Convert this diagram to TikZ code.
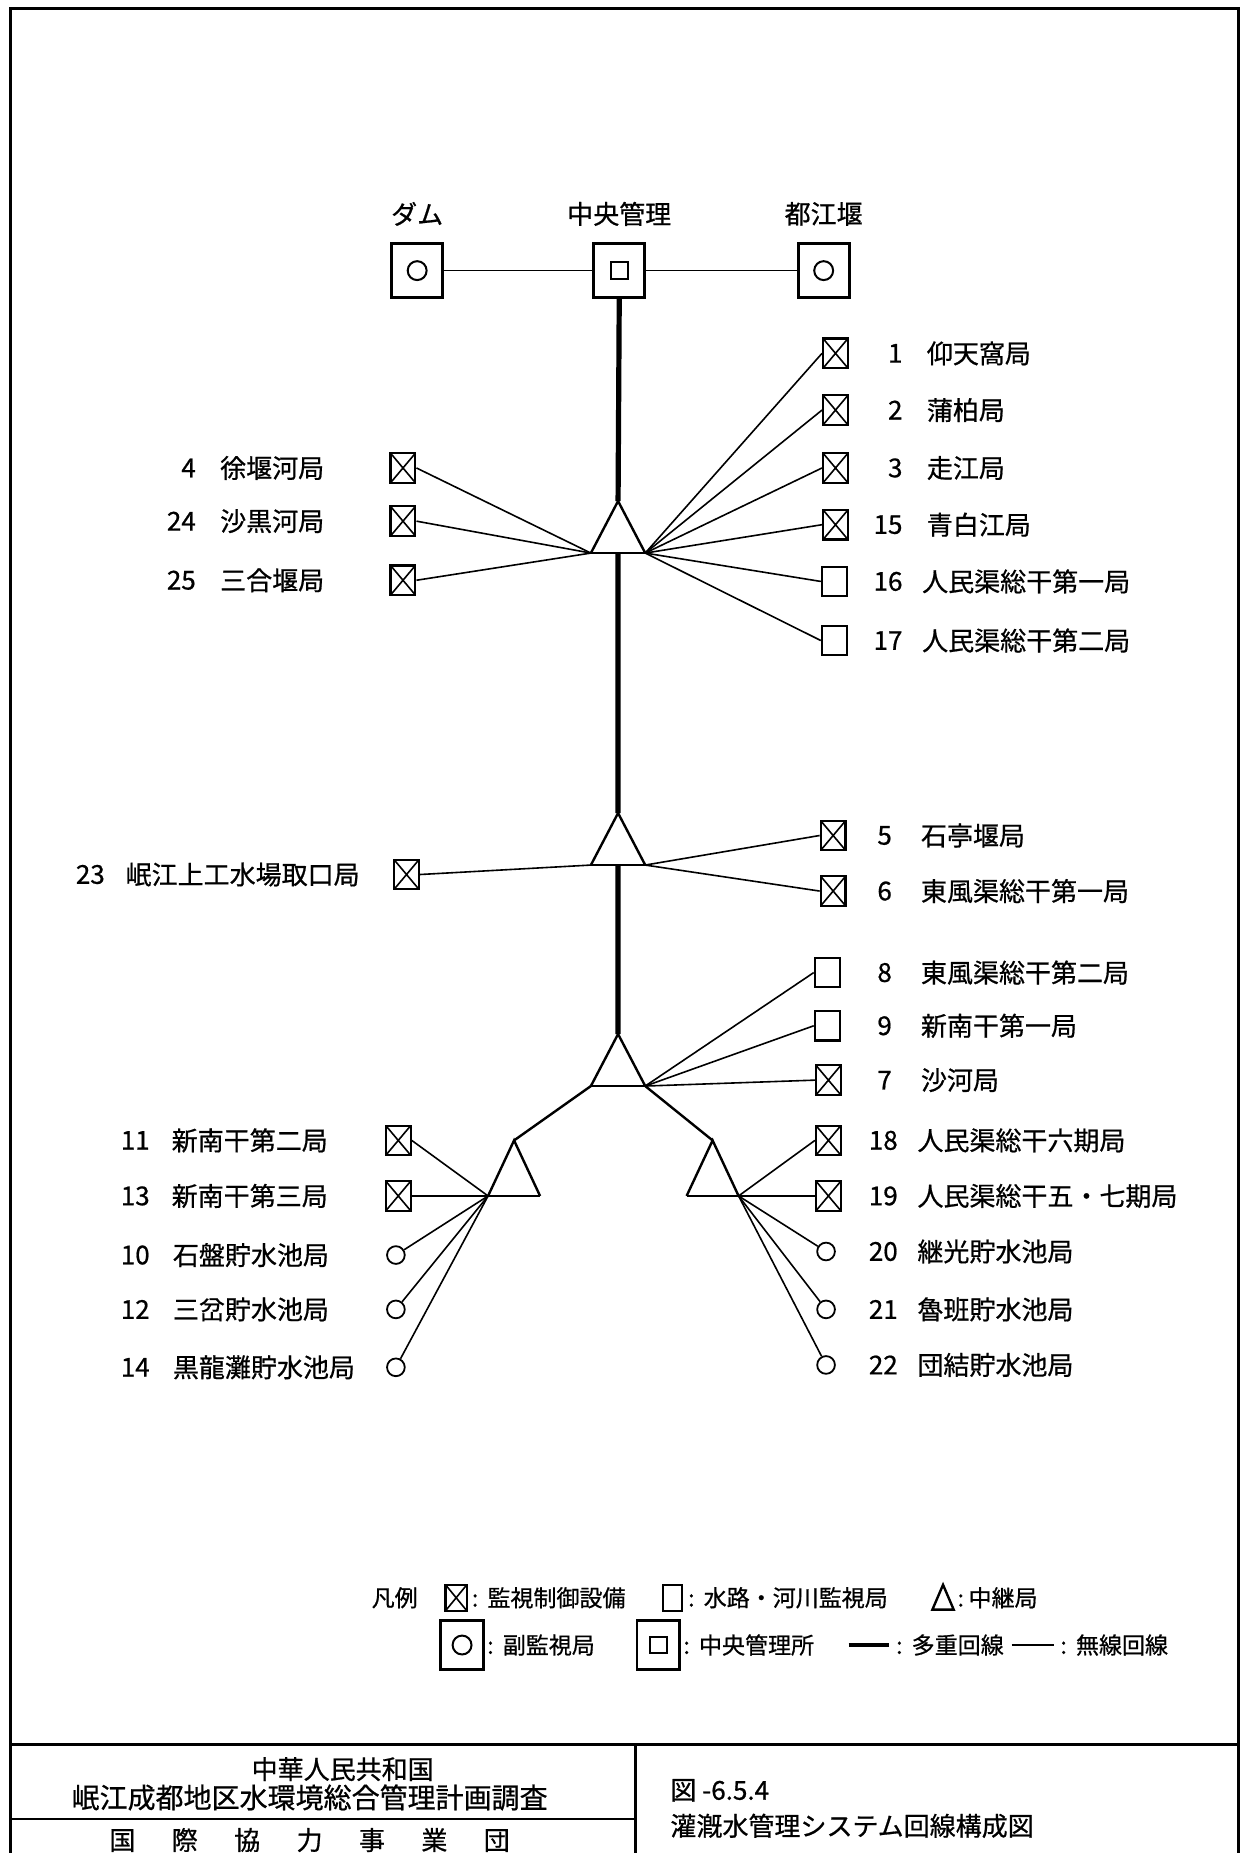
\documentclass[tikz,border=0pt]{standalone}
\usepackage{fontspec}
\setmainfont{Noto Sans CJK JP}[BoldFont=*, BoldFeatures={FakeBold=0.7}]
\usepackage{xcolor}
\usepackage{tikz}
\usetikzlibrary{positioning, calc}
\newcommand{\pxu}{0.5908bp}

\tikzset{
    lbl/.style={font=\fontsize{13bp}{13bp}\selectfont\bfseries, inner sep=0pt},
    smalllbl/.style={font=\fontsize{11.5bp}{11.5bp}\selectfont\bfseries, inner sep=0pt},
    obox/.style={draw, rectangle, line width=1.1bp, inner sep=0pt, minimum width=21*\pxu, minimum height=25*\pxu},
    xbox/.style={obox, path picture={
        \draw[line width=0.8bp] (path picture bounding box.north west) -- (path picture bounding box.south east)
            (path picture bounding box.north east) -- (path picture bounding box.south west);}},
    cstat/.style={draw, circle, line width=0.9bp, inner sep=0pt, minimum size=15*\pxu},
    bigbox/.style={draw, rectangle, line width=1.4bp, inner sep=0pt, minimum width=43*\pxu, minimum height=46*\pxu},
    subbox/.style={bigbox, path picture={\draw[line width=1bp] (path picture bounding box.center) circle[radius=8*\pxu];}},
    hqbox/.style={bigbox, path picture={\draw[line width=1bp] (path picture bounding box.center) ++(-7,-7) rectangle ++(14,14);}},
    multi/.style={line width=2.6bp},
    radio/.style={line width=0.8bp},
    side/.style={line width=1.2bp},
    frame/.style={line width=1.5bp}
}

\begin{document}
\begin{tikzpicture}[x=\pxu, y=-\pxu]
    \useasboundingbox (0,0) rectangle (1052,1568);

    % Frame and title block
    \draw[frame] (8.5,1568) -- (8.5,7) -- (1048,7) -- (1048,1568);
    \draw[frame] (8.5,1476) -- (1048,1476);
    \draw[frame] (538,1476) -- (538,1568);
    \draw[line width=1bp] (8.5,1539) -- (538,1539);
    \node[lbl] (tt1) at (290,1497) {中華人民共和国};
    \node[lbl, font=\fontsize{14bp}{14bp}\selectfont\bfseries] (tt2) at (262,1521) {岷江成都地区水環境総合管理計画調査};
    \node[lbl] (tt3) at (262,1557) {国\hspace{1.4em}際\hspace{1.4em}協\hspace{1.4em}力\hspace{1.4em}事\hspace{1.4em}業\hspace{1.4em}団};
    \node[lbl, anchor=west] (fig) at (567,1515) {図 -6.5.4};
    \node[lbl, anchor=west] (ttl) at (567,1545) {灌漑水管理システム回線構成図};

    % Head stations
    \node[subbox] (dam) at (353,229) {};
    \node[hqbox] (hq) at (524,229) {};
    \node[subbox] (djy) at (697,229) {};
    \node[lbl] (damt) at (353,181) {ダム};
    \node[lbl] (hqt) at (524,181) {中央管理};
    \node[lbl] (djyt) at (697,181) {都江堰};
    \draw[radio] (dam) -- (hq) (hq) -- (djy);

    % Relay stations
    \foreach \relay/\y in {r1/424, r2/688, r3/875} {
        \coordinate (\relay) at (523,\y);
        \coordinate (\relay l) at (500,\y+44);
        \coordinate (\relay r) at (546,\y+44);
        \coordinate (\relay b) at (523,\y+44);
        \draw[side] (\relay l) -- (\relay) -- (\relay r);
        \draw[radio] (\relay l) -- (\relay r);
    }
    \foreach \relay/\x in {r4/435, r5/603} {
        \coordinate (\relay) at (\x,965);
        \coordinate (\relay l) at (\x-22,1012);
        \coordinate (\relay r) at (\x+22,1012);
        \draw[side] (\relay l) -- (\relay) -- (\relay r);
        \draw[radio] (\relay l) -- (\relay r);
    }
    \draw[multi] (hq.south) -- (r1) (r1b) -- (r2) (r2b) -- (r3);
    \draw[side] (r3l) -- (r4) (r3r) -- (r5);

    % Relay 1
    \foreach \n/\y/\name in {1/299/仰天窩局, 2/347/蒲柏局, 3/396/走江局, 15/444/青白江局} {
        \node[xbox] (s\n) at (707,\y) {};
        \node[lbl, anchor=east] (n\n) at (764,\y) {\n};
        \node[lbl, anchor=west] (l\n) at (784,\y) {\name};
        \draw[radio] (r1r) -- (s\n.west);
    }
    \foreach \n/\y/\name in {16/492/人民渠総干第一局, 17/542/人民渠総干第二局} {
        \node[obox] (s\n) at (706,\y) {};
        \node[lbl, anchor=east] (n\n) at (764,\y) {\n};
        \node[lbl, anchor=west] (l\n) at (780,\y) {\name};
        \draw[radio] (r1r) -- (s\n.west);
    }
    \foreach \n/\y/\name in {4/396/徐堰河局, 24/441/沙黒河局, 25/491/三合堰局} {
        \node[xbox] (s\n) at (341,\y) {};
        \node[lbl, anchor=east] (n\n) at (166,\y) {\n};
        \node[lbl, anchor=west] (l\n) at (186,\y) {\name};
        \draw[radio] (r1l) -- (s\n.east);
    }

    % Relay 2
    \node[xbox] (s23) at (344,740) {};
    \node[lbl, anchor=east] (n23) at (89,740) {23};
    \node[lbl, anchor=west] (l23) at (106,740) {岷江上工水場取口局};
    \draw[radio] (r2l) -- (s23.east);
    \foreach \n/\y/\name in {5/707/石亭堰局, 6/754/東風渠総干第一局} {
        \node[xbox] (s\n) at (705,\y) {};
        \node[lbl, anchor=east] (n\n) at (755,\y) {\n};
        \node[lbl, anchor=west] (l\n) at (779,\y) {\name};
        \draw[radio] (r2r) -- (s\n.west);
    }

    % Relay 3
    \foreach \n/\y/\name in {8/823/東風渠総干第二局, 9/868/新南干第一局} {
        \node[obox] (s\n) at (700,\y) {};
        \node[lbl, anchor=east] (n\n) at (755,\y) {\n};
        \node[lbl, anchor=west] (l\n) at (779,\y) {\name};
        \draw[radio] (r3r) -- (s\n.west);
    }
    \node[xbox] (s7) at (701,914) {};
    \node[lbl, anchor=east] (n7) at (755,914) {7};
    \node[lbl, anchor=west] (l7) at (779,914) {沙河局};
    \draw[radio] (r3r) -- (s7.west);

    % Relay 4 (left)
    \foreach \n/\y/\name in {11/965/新南干第二局, 13/1012/新南干第三局} {
        \node[xbox] (s\n) at (337,\y) {};
        \node[lbl, anchor=east] (n\n) at (127,\y) {\n};
        \node[lbl, anchor=west] (l\n) at (145,\y) {\name};
        \draw[radio] (r4l) -- (s\n.east);
    }
    \foreach \n/\y/\name in {10/1062/石盤貯水池局, 12/1108/三岔貯水池局, 14/1157/黒龍灘貯水池局} {
        \node[cstat] (s\n) at (335,\y) {};
        \node[lbl, anchor=east] (n\n) at (127,\y) {\n};
        \node[lbl, anchor=west] (l\n) at (146,\y) {\name};
        \draw[radio] (r4l) -- (s\n);
    }

    % Relay 5 (right)
    \foreach \n/\y/\name in {18/965/人民渠総干六期局, 19/1012/人民渠総干五・七期局} {
        \node[xbox] (s\n) at (701,\y) {};
        \node[lbl, anchor=east] (n\n) at (760,\y) {\n};
        \node[lbl, anchor=west] (l\n) at (776,\y) {\name};
        \draw[radio] (r5r) -- (s\n.west);
    }
    \foreach \n/\y/\name in {20/1059/継光貯水池局, 21/1108/魯班貯水池局, 22/1155/団結貯水池局} {
        \node[cstat] (s\n) at (699,\y) {};
        \node[lbl, anchor=east] (n\n) at (760,\y) {\n};
        \node[lbl, anchor=west] (l\n) at (776,\y) {\name};
        \draw[radio] (r5r) -- (s\n);
    }

    % Legend
    \node[smalllbl] (lg) at (334,1352) {凡例};
    \node[xbox, minimum width=18*\pxu, minimum height=22*\pxu] (lgx) at (386,1352) {};
    \node[smalllbl, anchor=west] (lgxt) at (399,1352) {:\hspace{0.4em}監視制御設備};
    \node[obox, minimum width=16*\pxu, minimum height=22*\pxu] (lgo) at (569,1352) {};
    \node[smalllbl, anchor=west] (lgot) at (582,1352) {:\hspace{0.4em}水路・河川監視局};
    \draw[side] (789,1362) -- (798,1341) -- (807,1362) -- cycle;
    \node[smalllbl, anchor=west] (lgrt) at (810,1352) {:\hspace{0.2em}中継局};
    \node[subbox, minimum width=36*\pxu, minimum height=42*\pxu] (lgs) at (391,1392) {};
    \node[smalllbl, anchor=west] (lgst) at (412,1392) {:\hspace{0.4em}副監視局};
    \node[hqbox, minimum width=36*\pxu, minimum height=42*\pxu] (lgh) at (557,1392) {};
    \node[smalllbl, anchor=west] (lght) at (578,1392) {:\hspace{0.4em}中央管理所};
    \draw[multi, line width=1.6bp] (718,1392) -- (752,1392);
    \node[smalllbl, anchor=west] (lgmt) at (758,1392) {:\hspace{0.4em}多重回線};
    \draw[radio] (856,1392) -- (892,1392);
    \node[smalllbl, anchor=west] (lgwt) at (897,1392) {:\hspace{0.4em}無線回線};
\end{tikzpicture}
\end{document}
